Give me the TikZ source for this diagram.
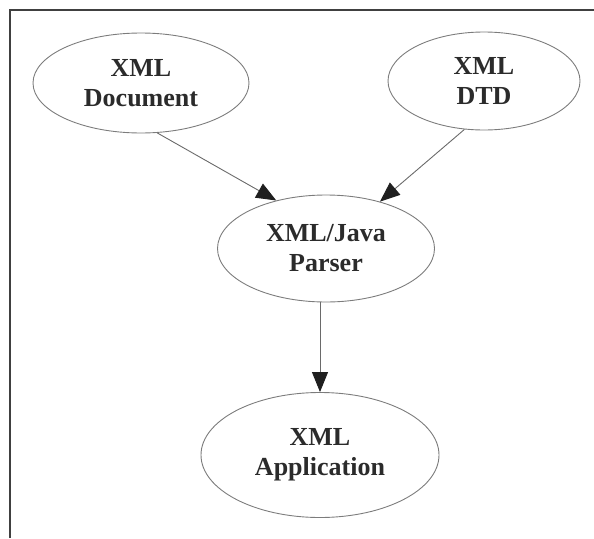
\documentclass[tikz,border=0pt]{standalone}
\usepackage{fontspec}
\setmainfont{Liberation Serif}
\usetikzlibrary{shapes.geometric,arrows.meta}
\definecolor{inkgray}{HTML}{2B2B2B}
\definecolor{edgegray}{HTML}{7C7C7C}
\definecolor{linegray}{HTML}{6A6A6A}
\definecolor{framegray}{HTML}{404040}
\tikzset{
  bubble/.style={ellipse, draw=edgegray, line width=0.9pt, inner sep=0pt,
    align=center, text=inkgray,
    font=\fontsize{26}{30}\selectfont\bfseries},
  flow/.style={draw=linegray, line width=0.9pt,
    -{Triangle[length=20pt,width=16pt,color=black!88]}},
}
\begin{document}
\begin{tikzpicture}[x=1pt,y=-1pt]
  \useasboundingbox (0,0) rectangle (594,538);
  % open frame: top and left rules
  \draw[framegray, line width=2pt] (10,538) -- (10,10) -- (594,10);

  \node[bubble, minimum width=216pt, minimum height=100pt] (doc) at (141,83) {XML\\Document};
  \node[bubble, minimum width=192pt, minimum height=98pt]  (dtd) at (484,81) {XML\\DTD};
  \node[bubble, minimum width=217pt, minimum height=107pt] (parser) at (326,248.5) {XML/Java\\Parser};
  \node[bubble, minimum width=238pt, minimum height=125pt] (app) at (320,455) {XML\\Application};

  \draw[flow] (doc.-72) -- (parser.136.5);
  \draw[flow] (dtd.-112) -- (parser.41.7);
  \draw[flow] (app.north |- parser.south) -- (app.north);
\end{tikzpicture}
\end{document}
